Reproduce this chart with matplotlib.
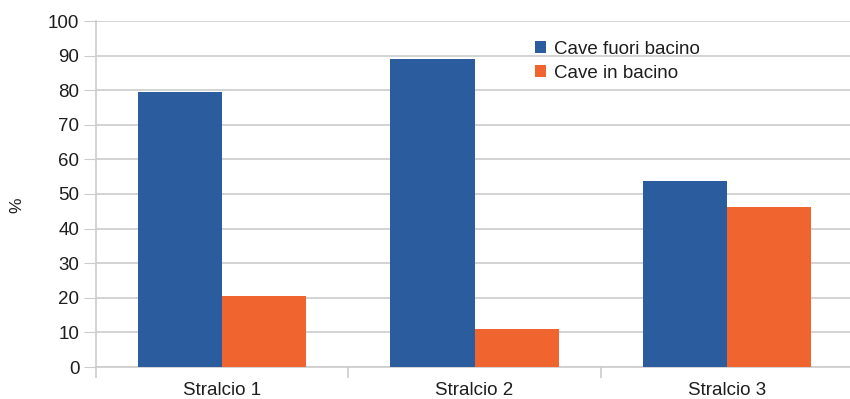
import matplotlib
matplotlib.use("Agg")
import matplotlib.pyplot as plt
import numpy as np

categories = ["Stralcio 1", "Stralcio 2", "Stralcio 3"]
fuori_bacino = [79.6, 88.9, 53.8]
in_bacino = [20.4, 11.1, 46.2]
series_names = ["Cave fuori bacino", "Cave in bacino"]
y_ticks = list(range(0, 101, 10))

plt.rcParams["font.family"] = ["Liberation Sans", "DejaVu Sans"]

blue = "#2A5C9E"
orange = "#F0642F"
grid_col = "#cccccc"
text_col = "#1e1e1e"

fig = plt.figure(figsize=(8.5, 3.99), dpi=100)
ax = fig.add_axes([96 / 850, 1 - 367 / 399, (853 - 96) / 850, (367 - 21) / 399])

x = np.arange(len(categories))
w = 0.333
ax.bar(x - w / 2, fuori_bacino, w, color=blue, label=series_names[0], zorder=3)
ax.bar(x + w / 2, in_bacino, w, color=orange, label=series_names[1], zorder=3)

ax.set_xlim(-0.5, len(categories) - 0.5)
ax.set_ylim(0, 100)
ax.set_yticks(y_ticks)
ax.tick_params(axis="y", length=9, color=grid_col, labelsize=13.5, labelcolor=text_col, pad=3)
ax.yaxis.grid(True, color=grid_col, linewidth=1.2, zorder=0)

# category labels centred, ticks on the group boundaries
ax.set_xticks(x)
ax.set_xticklabels(categories, fontsize=13.5, color=text_col)
ax.tick_params(axis="x", which="major", length=0, pad=11)
ax.set_xticks(np.arange(len(categories) + 1) - 0.5, minor=True)
ax.tick_params(axis="x", which="minor", length=8, color=grid_col, width=1.2)

for s in ["top", "right"]:
    ax.spines[s].set_visible(False)
ax.spines["left"].set_color(grid_col)
ax.spines["bottom"].set_color(grid_col)
ax.spines["left"].set_linewidth(1.2)
ax.spines["bottom"].set_linewidth(1.2)

fig.text(17 / 850, 1 - 205 / 399, "%", rotation=90, fontsize=12.5, color=text_col,
         ha="center", va="center")

leg = ax.legend(loc="upper left", bbox_to_anchor=((527 - 96) / (853 - 96), 1 - (33 - 21) / 346),
                frameon=False, fontsize=13.5, handlelength=0.6, handleheight=0.6,
                handletextpad=0.45, labelspacing=0.4, borderaxespad=0)
for t in leg.get_texts():
    t.set_color(text_col)

fig.savefig("out.png", dpi=100)
